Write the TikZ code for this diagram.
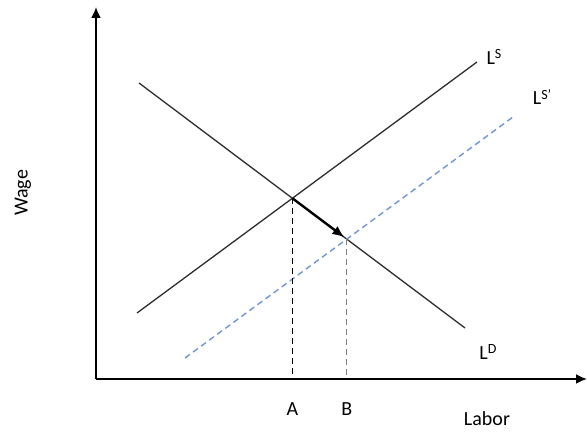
\documentclass[tikz,border=0pt]{standalone}
\usepackage{fontspec}
\setmainfont{Carlito}
\usetikzlibrary{arrows.meta,intersections}

\definecolor{curve}{RGB}{45,45,45}
\definecolor{shiftblue}{RGB}{110,150,215}
\newcommand\upidx[1]{\raisebox{0.6ex}{\fontsize{14}{16}\selectfont #1}}

\begin{document}
\begin{tikzpicture}[x=1pt,y=1pt,font=\fontsize{20}{24}\selectfont,
  axis/.style={line width=1.8pt,-{Latex[length=11pt,width=10pt]}},
  curveline/.style={curve,line width=1.3pt},
  guide/.style={line width=1.4pt,dash pattern=on 6pt off 4pt},
  lbl/.style={inner sep=1pt}]
  \useasboundingbox (0,0) rectangle (587,435);
  % axes
  \coordinate (O) at (96,56);
  \coordinate (ytop) at (96,428);
  \coordinate (xend) at (587,56);
  \draw[axis] (O) -- (ytop);
  \draw[axis] (O) -- (xend);
  % supply, demand and the shifted supply
  \draw[curveline,name path=supply] (137,122) coordinate (s1) -- (477,373) coordinate (s2);
  \draw[curveline,name path=demand] (139,352) coordinate (d1) -- (465,107) coordinate (d2);
  \draw[shiftblue,guide,name path=shifted] (185,77) coordinate (n1) -- (513,318) coordinate (n2);
  \path[name intersections={of=supply and demand,by=E1}];
  \path[name intersections={of=shifted and demand,by=E2}];
  % drop lines to the labor axis
  \draw[guide,black] (E1) -- (E1 |- O);
  \draw[guide,gray] (E2) -- (E2 |- O);
  % movement along demand
  \draw[line width=2.4pt,-{Latex[length=12pt,width=10pt]},shorten >=3pt] (E1) -- (E2);
  % labels
  \node[lbl] (LS) at (494,378) {L\upidx{S}};
  \node[lbl] (LSp) at (542,338) {L\upidx{S’}};
  \node[lbl] (LD) at (488,83) {L\upidx{D}};
  \node[lbl] (A) at (E1 |- 0,26) {A};
  \node[lbl] (B) at (E2 |- 0,26) {B};
  \node[lbl] (labor) at (487,16) {Labor};
  \node[lbl,rotate=90] (wage) at (23,242) {Wage};
\end{tikzpicture}
\end{document}
